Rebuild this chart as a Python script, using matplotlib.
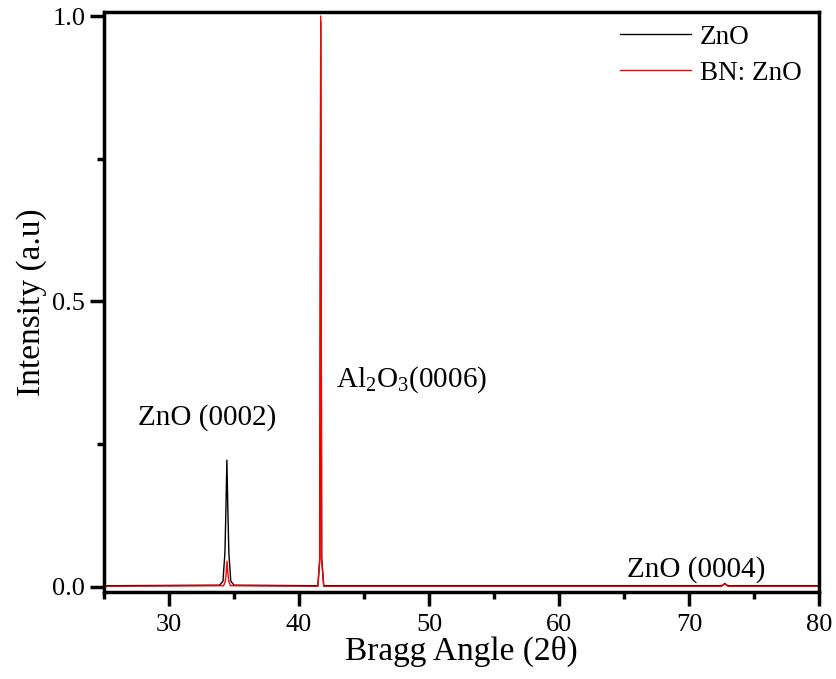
import matplotlib
matplotlib.use("Agg")
import matplotlib.pyplot as plt
from matplotlib.ticker import MultipleLocator

plt.rcParams['font.family'] = ['Liberation Serif', 'DejaVu Serif']
plt.rcParams['mathtext.fontset'] = 'custom'
plt.rcParams['mathtext.rm'] = 'Liberation Serif'

# Bragg angle (2θ) and normalised intensity
zno_angle = [25.0, 33.9, 34.15, 34.3, 34.38, 34.45, 34.52, 34.6, 34.75, 35.0,
             41.45, 41.6, 41.67, 41.74, 41.9, 72.4, 72.6, 72.75, 72.9, 73.1, 80.0]
zno_int = [0.002, 0.003, 0.01, 0.06, 0.14, 0.222, 0.14, 0.06, 0.01, 0.003,
           0.002, 0.05, 0.99, 0.05, 0.002, 0.002, 0.003, 0.006, 0.003, 0.002, 0.002]

bn_angle = [25.0, 34.2, 34.33, 34.4, 34.46, 34.52, 34.6, 34.72,
            41.45, 41.6, 41.67, 41.74, 41.9, 72.5, 72.75, 73.0, 80.0]
bn_int = [0.001, 0.002, 0.01, 0.025, 0.045, 0.025, 0.01, 0.002,
          0.001, 0.05, 1.0, 0.05, 0.001, 0.001, 0.005, 0.001, 0.001]

fig = plt.figure(figsize=(8.37, 6.79), dpi=100)
ax = fig.add_axes([0.1243, 0.1281, 0.8542, 0.8542])

ax.plot(zno_angle, zno_int, color='black', lw=1.0, label='ZnO')
ax.plot(bn_angle, bn_int, color='red', lw=1.0, label='BN: ZnO')

ax.set_xlim(25, 80)
ax.set_ylim(-0.009, 1.007)
ax.xaxis.set_major_locator(MultipleLocator(10))
ax.xaxis.set_minor_locator(MultipleLocator(5))
ax.yaxis.set_major_locator(MultipleLocator(0.5))
ax.yaxis.set_minor_locator(MultipleLocator(0.25))
ax.tick_params(which='both', direction='out', width=2.5, labelsize=19)
ax.tick_params(axis='x', which='major', pad=6)
ax.tick_params(which='major', length=10)
ax.tick_params(which='minor', length=5)
ax.set_xticks([30, 40, 50, 60, 70, 80])
ax.set_yticks([0.0, 0.5, 1.0])
ax.set_yticklabels(['0.0', '0.5', '1.0'])
for s in ax.spines.values():
    s.set_linewidth(2.5)

ax.set_xlabel('Bragg Angle (2θ)', fontsize=24, labelpad=0)
ax.set_ylabel('Intensity (a.u)', fontsize=24, labelpad=4)

ax.text(27.6, 0.285, 'ZnO (0002)', fontsize=21)
ax.text(42.85, 0.35, r'Al$_2$O$_3$(0006)', fontsize=21)
ax.text(65.2, 0.018, 'ZnO (0004)', fontsize=21)

leg = ax.legend(loc='upper right', frameon=False, fontsize=19.5, handlelength=2.6,
                handletextpad=0.35, labelspacing=0.4, bbox_to_anchor=(1.01, 1.02))

fig.savefig('out.png', dpi=100)
